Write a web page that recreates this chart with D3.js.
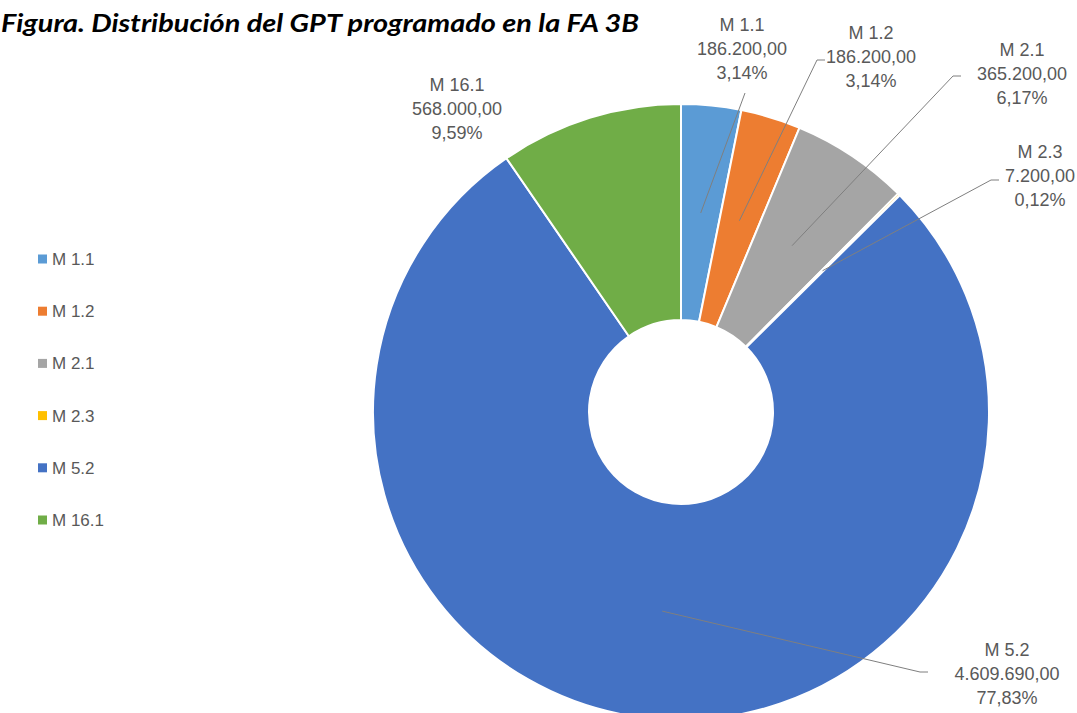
<!doctype html>
<html>
<head>
<meta charset="utf-8">
<script src="https://cdnjs.cloudflare.com/ajax/libs/d3/7.8.5/d3.min.js"></script>
<style>
  body { margin: 0; background: #fff; }
  svg { display: block; }
  .title { font-family: Lato, "Open Sans", sans-serif; font-weight: bold; font-style: italic; fill: #000; }
  .lbl, .leg { font-family: Arial, "Liberation Sans", sans-serif; fill: #595959; }
</style>
</head>
<body>
<svg id="chart" width="1077" height="713"></svg>
<script>
// data
var categories = ["M 1.1", "M 1.2", "M 2.1", "M 2.3", "M 5.2", "M 16.1"];
var values = [186200, 186200, 365200, 7200, 4609690, 568000];
var colors = ["#5b9bd5", "#ed7d31", "#a5a5a5", "#ffc000", "#4472c4", "#70ad47"];

// label layout (label centre relative to chart centre, and where the leader ends)
var labelPos = [[61, -381], [190, -373], [341, -356], [359, -254], [326, 244], [-224, -321]];
var leaderEnd = [[64, -319], [136, -352], [272, -336], [310, -232], [239, 260], null];

var W = 1077, H = 713;
var cx = 681, cy = 412, R = 308, r0 = 92;

var svg = d3.select("#chart");

svg.append("text")
  .attr("class", "title")
  .attr("x", 1).attr("y", 32)
  .attr("font-size", 24)
  .attr("textLength", 638)
  .attr("lengthAdjust", "spacingAndGlyphs")
  .text("Figura. Distribución del GPT programado en la FA 3B");

var total = d3.sum(values);
var es = d3.formatLocale({decimal: ",", thousands: ".", grouping: [3], currency: ["", "€"]});
var fmtVal = es.format(",.2f");
var fmtPct = es.format(".2%");

var data = categories.map(function(c, i) { return {name: c, value: values[i], color: colors[i], i: i}; });

var pie = d3.pie().sort(null).value(d => d.value);
var arc = d3.arc().innerRadius(r0).outerRadius(R);
var arcs = pie(data);

var g = svg.append("g").attr("transform", "translate(" + cx + "," + cy + ")");

g.selectAll("path.slice")
  .data(arcs)
  .enter()
  .append("path")
    .attr("class", "slice")
    .attr("d", arc)
    .attr("fill", d => d.data.color)
    .attr("stroke", "#fff")
    .attr("stroke-width", 2);

// leader lines
arcs.forEach(function(a, i) {
  var e = leaderEnd[i];
  if (!e) return;
  var c = arc.centroid(a);
  var pts = [c, e];
  if (i > 0) pts.push([e[0] + 8, e[1]]);
  g.append("path")
    .attr("d", d3.line()(pts))
    .attr("fill", "none")
    .attr("stroke", "#7f7f7f")
    .attr("stroke-width", 1);
});

// data labels
arcs.forEach(function(a, i) {
  var p = labelPos[i];
  var t = g.append("text")
    .attr("class", "lbl")
    .attr("font-size", 18)
    .attr("text-anchor", "middle")
    .attr("x", p[0]).attr("y", p[1]);
  var lines = [a.data.name, fmtVal(a.data.value), fmtPct(a.data.value / total)];
  lines.forEach(function(s, k) {
    t.append("tspan").attr("x", p[0]).attr("dy", k === 0 ? 0 : 24).text(s);
  });
});

// legend
var leg = svg.append("g").attr("transform", "translate(38,259)");
var item = leg.selectAll("g.item")
  .data(data)
  .enter()
  .append("g")
    .attr("class", "item")
    .attr("transform", (d, i) => "translate(0," + (i * 52.2) + ")");
item.append("rect")
  .attr("x", 0).attr("y", -4.5)
  .attr("width", 9).attr("height", 9)
  .attr("fill", d => d.color);
item.append("text")
  .attr("class", "leg")
  .attr("x", 14).attr("y", 6)
  .attr("font-size", 17)
  .text(d => d.name);
</script>
</body>
</html>
